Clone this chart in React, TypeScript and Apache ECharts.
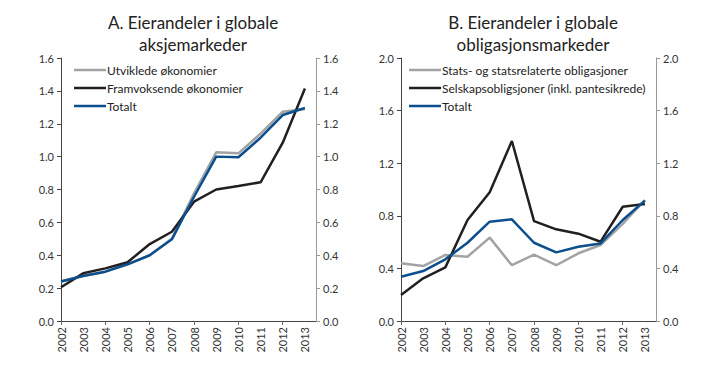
import React, { useEffect, useRef } from "react";
import * as echarts from "echarts";

const years = [2002, 2003, 2004, 2005, 2006, 2007, 2008, 2009, 2010, 2011, 2012, 2013];
const tickYears = [2002, 2004, 2006, 2008, 2010, 2012];

// Panel A
const aUtviklede = [0.24, 0.275, 0.3, 0.345, 0.4, 0.5, 0.777, 1.026, 1.02, 1.14, 1.273, 1.29];
const aFramvoksende = [0.205, 0.29, 0.32, 0.357, 0.468, 0.543, 0.726, 0.8, 0.821, 0.844, 1.085, 1.415];
const aTotalt = [0.24, 0.274, 0.3, 0.345, 0.4, 0.497, 0.756, 1.0, 0.996, 1.115, 1.253, 1.296];

// Panel B
const bStats = [0.439, 0.418, 0.502, 0.489, 0.634, 0.424, 0.504, 0.424, 0.515, 0.578, 0.738, 0.92];
const bSelskap = [0.198, 0.325, 0.408, 0.768, 0.979, 1.369, 0.76, 0.697, 0.664, 0.603, 0.869, 0.89];
const bTotalt = [0.337, 0.38, 0.469, 0.595, 0.755, 0.773, 0.595, 0.522, 0.565, 0.59, 0.768, 0.915];

const titleA = "A. Eierandeler i globale\naksjemarkeder";
const titleB = "B. Eierandeler i globale\nobligasjonsmarkeder";
const namesA = ["Utviklede økonomier", "Framvoksende økonomier", "Totalt"];
const namesB = ["Stats- og statsrelaterte obligasjoner", "Selskapsobligsjoner (inkl. pantesikrede)", "Totalt"];

const GRAY = "#a3a3a3";
const BLACK = "#231f20";
const BLUE = "#0b4f8e";
const FONT = "Lato";

export default function App() {
  const ref = useRef<HTMLDivElement>(null);
  useEffect(() => {
    if (!ref.current) return;
    const chart = echarts.init(ref.current, null, { renderer: "svg" });
    const pair = (arr: number[]) => years.map((y, i) => [y, arr[i]]);
    const xAxis = (gridIndex: number) => ({
      type: "value",
      gridIndex,
      min: 2002,
      max: 2013.5,
      interval: 1,
      axisLine: { lineStyle: { color: "#444", width: 1 } },
      axisTick: { show: true, customValues: tickYears, length: 4, lineStyle: { color: "#666" } },
      axisLabel: {
        customValues: years,
        rotate: 90,
        fontSize: 11,
        fontFamily: FONT,
        color: "#333",
        margin: 6,
        formatter: (v: number) => String(v),
      },
      splitLine: { show: false },
    });
    const yAxis = (gridIndex: number, max: number, interval: number, pos: string) => ({
      type: "value",
      gridIndex,
      position: pos,
      min: 0,
      max,
      interval,
      axisLine: { show: true, lineStyle: { color: pos === "left" ? "#444" : "#999", width: 1 } },
      axisTick: { show: true, length: 4, lineStyle: { color: pos === "left" ? "#444" : "#999" } },
      axisLabel: {
        fontSize: 11,
        fontFamily: FONT,
        color: "#333",
        margin: 7,
        formatter: (v: number) => v.toFixed(1),
      },
      splitLine: { show: false },
    });
    const line = (name: string, data: number[], color: string, xi: number, yi: number, z: number) => ({
      type: "line",
      name,
      data: pair(data),
      xAxisIndex: xi,
      yAxisIndex: yi,
      symbol: "none",
      z,
      lineStyle: { color, width: 2.5 },
      itemStyle: { color },
    });
    const legend = (names: string[], left: number) => ({
      data: names,
      orient: "vertical",
      left,
      top: 59,
      itemWidth: 32,
      itemHeight: 14,
      itemGap: 6,
      icon: "path://M0,6 L32,6 L32,8.5 L0,8.5 Z",
      textStyle: { fontSize: 12, fontFamily: FONT, color: "#222", padding: [0, 0, 0, -4] },
    });
    chart.setOption({
      animation: false,
      backgroundColor: "#fff",
      title: [
        {
          text: titleA,
          left: 188,
          top: 6,
          textAlign: "center",
          textStyle: { fontSize: 17, fontWeight: "normal", fontFamily: FONT, color: "#222", lineHeight: 22 },
        },
        {
          text: titleB,
          left: 528,
          top: 6,
          textAlign: "center",
          textStyle: { fontSize: 17, fontWeight: "normal", fontFamily: FONT, color: "#222", lineHeight: 22 },
        },
      ],
      legend: [legend(namesA, 69), legend(namesB, 404)],
      grid: [
        { left: 61, top: 58, width: 255, height: 263 },
        { left: 401, top: 58, width: 255, height: 263 },
      ],
      xAxis: [xAxis(0), xAxis(1)],
      yAxis: [yAxis(0, 1.6, 0.2, "left"), yAxis(0, 1.6, 0.2, "right"), yAxis(1, 2.0, 0.4, "left"), yAxis(1, 2.0, 0.4, "right")],
      series: [
        line(namesA[0], aUtviklede, GRAY, 0, 0, 2),
        line(namesA[1], aFramvoksende, BLACK, 0, 0, 3),
        line(namesA[2], aTotalt, BLUE, 0, 0, 4),
        line(namesB[0], bStats, GRAY, 1, 2, 2),
        line(namesB[1], bSelskap, BLACK, 1, 2, 3),
        line(namesB[2], bTotalt, BLUE, 1, 2, 4),
      ],
    });
    return () => chart.dispose();
  }, []);
  return <div ref={ref} style={{ position: "fixed", left: 0, top: 0, width: 719, height: 369 }} />;
}
